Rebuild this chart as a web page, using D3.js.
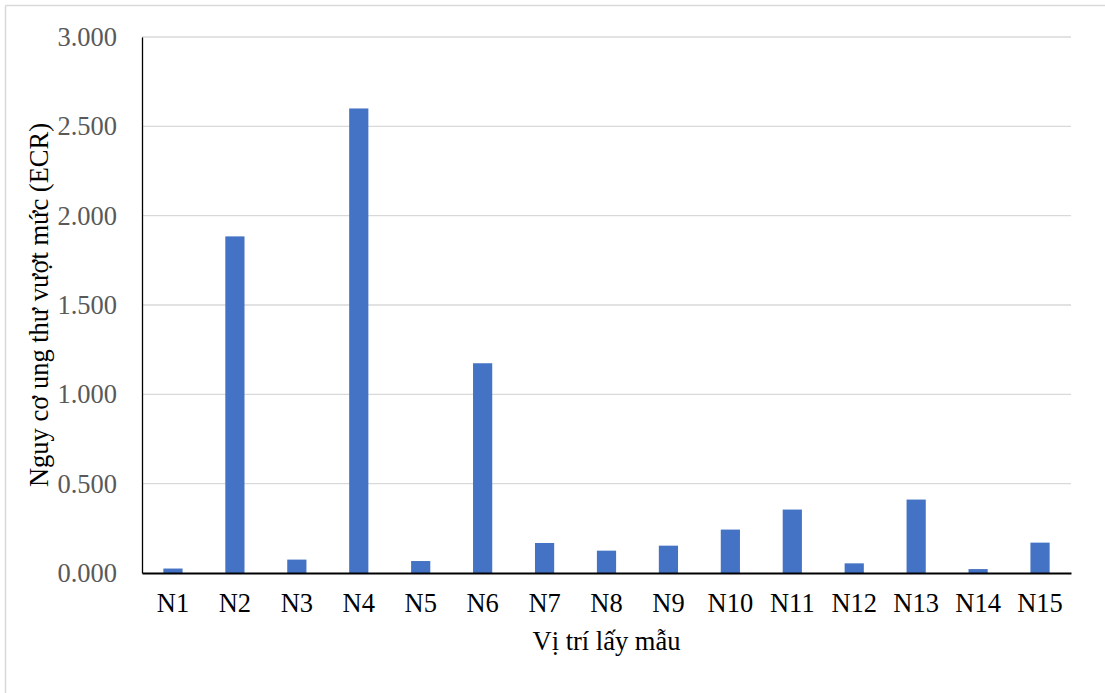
<!DOCTYPE html>
<html>
<head>
<meta charset="utf-8">
<script src="https://cdn.jsdelivr.net/npm/d3@7"></script>
<style>
  html, body { margin: 0; padding: 0; background: #fff; }
  svg text { font-family: "Liberation Serif", "Times New Roman", serif; }
</style>
</head>
<body>
<svg id="chart" width="1105" height="693"></svg>
<script>
// Sampling sites and their excess cancer risk values
const sites = ["N1","N2","N3","N4","N5","N6","N7","N8","N9","N10","N11","N12","N13","N14","N15"];
const ecr = [0.025, 1.884, 0.075, 2.600, 0.067, 1.174, 0.168, 0.125, 0.153, 0.243, 0.355, 0.054, 0.411, 0.022, 0.170];
const yTicks = [0, 0.5, 1.0, 1.5, 2.0, 2.5, 3.0];
const xTitle = "Vị trí lấy mẫu";
const yTitle = "Nguy cơ ung thư vượt mức (ECR)";

const svg = d3.select("#chart");
const W = 1105, H = 693;
const margin = { left: 142, right: 34, top: 37, bottom: 120 };
const plotW = W - margin.left - margin.right;
const plotH = H - margin.top - margin.bottom;
const fontSize = "26.5px";

// Outer frame (top and left edges)
svg.append("line").attr("x1", 5.5).attr("x2", W).attr("y1", 5.5).attr("y2", 5.5)
  .attr("stroke", "#d9d9d9").attr("stroke-width", 1.5);
svg.append("line").attr("x1", 5.5).attr("x2", 5.5).attr("y1", 5.5).attr("y2", H)
  .attr("stroke", "#d9d9d9").attr("stroke-width", 1.5);

const x = d3.scaleBand().domain(sites).range([0, plotW]).paddingInner(0.69).paddingOuter(0.345);
const y = d3.scaleLinear().domain([0, 3]).range([plotH, 0]);

const g = svg.append("g").attr("transform", `translate(${margin.left},${margin.top})`);

// Horizontal gridlines
g.append("g").selectAll("line").data(yTicks.filter(d => d > 0)).join("line")
  .attr("x1", 0).attr("x2", plotW)
  .attr("y1", d => y(d)).attr("y2", d => y(d))
  .attr("stroke", "#d9d9d9").attr("stroke-width", 1.3);

// Bars
g.append("g").selectAll("rect").data(sites).join("rect")
  .attr("x", d => x(d))
  .attr("width", x.bandwidth())
  .attr("y", (d, i) => y(ecr[i]))
  .attr("height", (d, i) => y(0) - y(ecr[i]))
  .attr("fill", "#4472c4");

// Y axis
const yAxis = d3.axisLeft(y).tickValues(yTicks).tickSize(0).tickPadding(25)
  .tickFormat(d => d3.format(".3f")(d));
const ya = g.append("g").call(yAxis);
ya.select(".domain").attr("stroke", "#000").attr("stroke-width", 1.3);
ya.selectAll("text").attr("fill", "#595959").style("font-size", fontSize)
  .attr("font-family", "Liberation Serif, Times New Roman, serif");

// X axis
const xAxis = d3.axisBottom(x).tickSize(0).tickPadding(20);
const xa = g.append("g").attr("transform", `translate(0,${plotH})`).call(xAxis);
xa.select(".domain").attr("stroke", "#000").attr("stroke-width", 2);
xa.selectAll("text").attr("fill", "#000").style("font-size", fontSize)
  .attr("font-family", "Liberation Serif, Times New Roman, serif");

// Axis titles
svg.append("text").attr("x", margin.left + plotW / 2).attr("y", 650)
  .attr("text-anchor", "middle").style("font-size", fontSize).attr("fill", "#000")
  .text(xTitle);
svg.append("text")
  .attr("transform", `translate(48,${margin.top + plotH / 2}) rotate(-90)`)
  .attr("text-anchor", "middle").style("font-size", fontSize).attr("fill", "#000")
  .text(yTitle);
</script>
</body>
</html>
